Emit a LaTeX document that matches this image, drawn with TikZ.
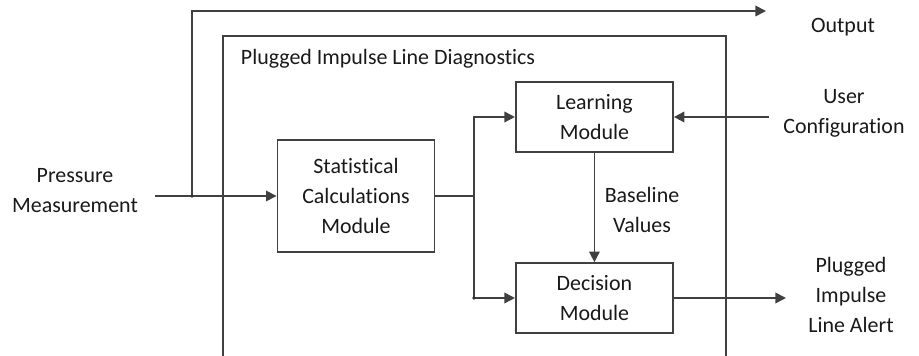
\documentclass[tikz,border=0pt]{standalone}
\usepackage{fontspec}
\setmainfont{Carlito}[Ligatures=NoCommon]
\usetikzlibrary{arrows.meta, positioning}
\tikzset{
  block/.style={draw=black!75, line width=1.2pt, minimum width=3.93cm, minimum height=1.75cm, align=center, text=black!90},
  lbl/.style={align=center, text=black!90},
  arr/.style={draw=black!75, line width=1.2pt, -{Triangle[length=7.5pt, width=7.5pt]}},
  wire/.style={draw=black!75, line width=1.2pt},
  junc/.style={circle, fill=black!80, inner sep=0pt, minimum size=0.09cm},
}

\begin{document}
\begin{tikzpicture}[font=\fontsize{15.6}{21.3}\selectfont]
  \useasboundingbox (0,0) rectangle (22.975,8.9);
  % diagnostics frame
  \draw[wire] (5.575,-0.1) |- (18.15,8.0) -- (18.15,-0.1);
  \node[lbl, anchor=west] (title) at (5.9,7.425) {Plugged Impulse Line Diagnostics};
  % modules
  \node[block, minimum height=2.8cm] (calc) at (8.9,4.0) {Statistical\\Calculations\\Module};
  \node[block] (learn) at (14.86,5.975) {Learning\\Module};
  \node[block] (decide) at (14.86,1.45) {Decision\\Module};
  % outside labels
  \node[lbl] (press) at (1.875,4.125) {Pressure\\Measurement};
  \node[lbl] (out) at (21.075,8.225) {Output};
  \node[lbl] (user) at (21.1,6.075) {User\\Configuration};
  \node[lbl] (alert) at (21.275,1.525) {Plugged\\Impulse\\Line Alert};
  \node[lbl] (base) at (16.05,3.65) {Baseline\\Values};
  % connection points
  \coordinate (in) at (3.875,4.0);
  \coordinate (split) at (4.8,4.0);
  \coordinate (outend) at (19.15,8.625);
  \coordinate (br) at (11.85,4.0);
  \coordinate (usrstart) at (19.225,5.975);
  \coordinate (alertend) at (19.65,1.45);
  % signal lines
  \draw[arr] (in) -- (calc.west);
  \draw[arr] (split) |- (outend);
  \node[junc] (d1) at (split) {};
  \draw[wire] (calc.east) -- (br);
  \draw[arr] (br) |- (learn.west);
  \draw[arr] (br) |- (decide.west);
  \node[junc] (d2) at (br |- decide.west) {};
  \draw[arr] (usrstart) -- (learn.east);
  \draw[arr] (learn.south) -- (decide.north);
  \draw[arr] (decide.east) -- (alertend);
\end{tikzpicture}
\end{document}
